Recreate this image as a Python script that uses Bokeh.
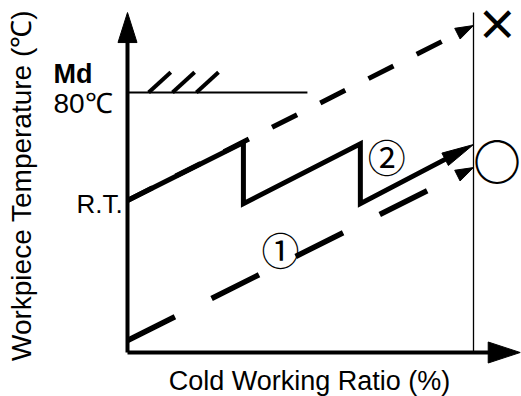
import math
from bokeh.plotting import figure
from bokeh.models import Range1d
from bokeh.core.properties import value
from bokeh.embed import file_html
from bokeh.resources import INLINE

# ---------------- data (schematic units) ----------------
# x: cold working ratio (%), y: workpiece temperature level (schematic)
md_level = 80.0          # Md = 80 degC
rt_level = 46.8          # room temperature level
x_axis_end = 113.5
y_axis_end = 104.6
ratio_end = 100.0

# path "X": dashed, continuous working, temperature exceeds Md
upper_x = [0.0, 100.0]
upper_y = [46.8, 100.6]

# path 2: solid saw-tooth, intermittent working with cooling
solid_x = [0.0, 33.5, 33.5, 67.3, 67.3, 100.0]
solid_y = [46.8, 64.6, 45.8, 64.2, 45.8, 64.0]

# path 1: dashed, starting from a cooled workpiece
lower_x = [0.0, 100.0]
lower_y = [3.7, 56.9]

md_line_x = [0.0, 52.0]
hatch_x = [6.1, 13.0, 19.9]
hatch_dx = 6.4
hatch_dy = 6.2

labels_path = ["①", "②"]
labels_path_x = [44.2, 74.9]
labels_path_y = [32.0, 60.6]

result_bad = ["×"]
result_bad_x = [106.9]
result_bad_y = [101.8]
result_good = ["○"]
result_good_x = [106.8]
result_good_y = [59.4]

x_title = "Cold Working Ratio (%)"
y_title = "Workpiece Temperature (\u2103)"

# ---------------- figure ----------------
W, H = 521, 396
SX, SY = 3.46, 3.25
x0 = -127 / SX
x1 = x0 + W / SX
y1 = 352 / SY
y0 = y1 - H / SY

p = figure(width=W, height=H, output_backend="svg", toolbar_location=None,
           x_range=Range1d(x0, x1), y_range=Range1d(y0, y1),
           min_border=0, min_border_left=0, min_border_right=0,
           min_border_top=0, min_border_bottom=0)
p.axis.visible = False
p.grid.visible = False
p.outline_line_color = None
p.background_fill_color = "white"
p.border_fill_color = "white"

BLACK = "black"


def head(xs, ys, xt, yt, length, width):
    dx = (xt - xs) * SX
    dy = (yt - ys) * SY
    L = math.hypot(dx, dy)
    ux, uy = dx / L, dy / L
    bx, by = -ux * length, -uy * length
    nx, ny = -uy * width / 2, ux * width / 2
    tri_x = [xt, xt + (bx + nx) / SX, xt + (bx - nx) / SX]
    tri_y = [yt, yt + (by + ny) / SY, yt + (by - ny) / SY]
    base = (xt + bx * 0.8 / SX, yt + by * 0.8 / SY)
    return tri_x, tri_y, base


heads_x, heads_y = [], []

# axes
tx, ty, b = head(0, 0, 0, y_axis_end, 30, 19)
heads_x.append(tx); heads_y.append(ty)
p.line([0, 0], [0, b[1]], line_width=4, line_color=BLACK)
tx, ty, b = head(0, 0, x_axis_end, 0, 32, 21)
heads_x.append(tx); heads_y.append(ty)
p.line([0, b[0]], [0, 0], line_width=4, line_color=BLACK)

# 100 % line
p.line([ratio_end, ratio_end], [0, y_axis_end], line_width=1.3, line_color=BLACK)

# Md line + hatching
p.line(md_line_x, [md_level, md_level], line_width=2, line_color=BLACK)
p.multi_line(xs=[[h, h + hatch_dx] for h in hatch_x],
             ys=[[md_level, md_level + hatch_dy] for _ in hatch_x],
             line_width=4, line_color=BLACK)

# upper dashed path
tx, ty, b = head(upper_x[0], upper_y[0], upper_x[1], upper_y[1], 18, 12)
heads_x.append(tx); heads_y.append(ty)
p.line([upper_x[0], b[0]], [upper_y[0], b[1]], line_width=5, line_color=BLACK,
       line_dash="28 26")

# lower dashed path
tx, ty, b = head(lower_x[0], lower_y[0], lower_x[1], lower_y[1], 18, 12)
heads_x.append(tx); heads_y.append(ty)
p.line([lower_x[0], b[0]], [lower_y[0], b[1]], line_width=5.5, line_color=BLACK,
       line_dash="53 41")

# solid saw-tooth path
tx, ty, b = head(solid_x[-2], solid_y[-2], solid_x[-1], solid_y[-1], 32, 14)
heads_x.append(tx); heads_y.append(ty)
p.line(solid_x[:-1] + [b[0]], solid_y[:-1] + [b[1]], line_width=5,
       line_color=BLACK, line_join="miter")

p.patches(heads_x, heads_y, fill_color=BLACK, line_color=BLACK, line_width=1)

# texts
FONT = value("Liberation Sans")
p.text(x=[-21.4], y=[md_level], text=["Md"], text_font=FONT, text_font_size="27px",
       text_font_style="bold", text_align="left", text_baseline="middle", y_offset=-19,
       text_color=BLACK)
p.text(x=[-21.4], y=[md_level], text=["80\u2103"], text_font=FONT, text_font_size="28px",
       text_align="left", text_baseline="middle", y_offset=11, text_color=BLACK)
p.text(x=[-1.4], y=[rt_level], text=["R.T."], text_font=FONT, text_font_size="26px",
       text_align="right", text_baseline="middle", y_offset=4, text_color=BLACK)

p.text(x=labels_path_x, y=labels_path_y, text=labels_path,
       text_font=value("Noto Sans CJK JP"), text_font_size="38px",
       text_align="center", text_baseline="middle", text_color=BLACK)
p.text(x=result_bad_x, y=result_bad_y, text=result_bad,
       text_font=value("Noto Sans CJK JP"), text_font_size="42px", text_font_style="bold",
       text_align="center", text_baseline="middle", text_color=BLACK)
p.text(x=result_good_x, y=result_good_y, text=result_good,
       text_font=value("Noto Sans CJK JP"), text_font_size="48px", text_font_style="bold",
       text_align="center", text_baseline="middle", text_color=BLACK)

p.text(x=[52.6], y=[-8.8], text=[x_title], text_font=FONT, text_font_size="27px",
       text_align="center", text_baseline="middle", text_color=BLACK)
p.text(x=[-30.6], y=[51.4], text=[y_title], text_font=FONT, text_font_size="28px",
       angle=math.pi / 2, text_align="center", text_baseline="middle", text_color=BLACK)

open("out.html", "w").write(file_html(p, INLINE))
